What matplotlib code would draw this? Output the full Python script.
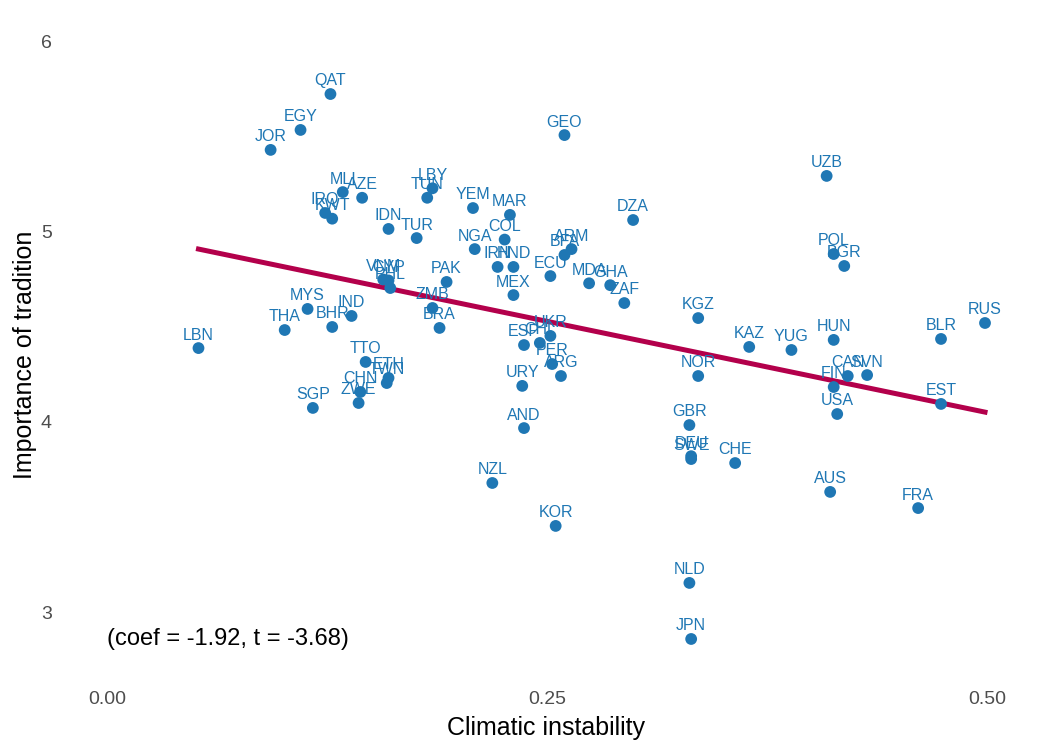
import matplotlib.pyplot as plt
import numpy as np

plt.rcParams['font.family'] = ['Liberation Sans', 'DejaVu Sans']

# country codes and values
countries = ['QAT', 'EGY', 'JOR', 'MLI', 'AZE', 'IRQ', 'KWT', 'LBY', 'TUN', 'YEM',
             'IDN', 'TUR', 'NGA', 'MAR', 'COL', 'GEO', 'DZA', 'UZB', 'IRN', 'HND',
             'ECU', 'BFA', 'ARM', 'MDA', 'GHA', 'ZAF', 'MEX', 'PAK', 'VNM', 'CYP',
             'PHL', 'ZMB', 'BRA', 'MYS', 'IND', 'BHR', 'THA', 'LBN', 'TTO', 'ETH',
             'TWN', 'CHN', 'ZWE', 'SGP', 'KGZ', 'ESP', 'CHL', 'UKR', 'PER', 'ARG',
             'URY', 'AND', 'NZL', 'KOR', 'NOR', 'GBR', 'DEU', 'SWE', 'CHE', 'NLD',
             'JPN', 'KAZ', 'YUG', 'HUN', 'POL', 'BGR', 'CAN', 'FIN', 'SVN', 'USA',
             'AUS', 'FRA', 'BLR', 'RUS', 'EST']
instability = [0.127, 0.110, 0.093, 0.134, 0.145, 0.124, 0.128, 0.185, 0.182, 0.208,
               0.160, 0.176, 0.209, 0.229, 0.226, 0.260, 0.299, 0.409, 0.222, 0.231,
               0.252, 0.260, 0.264, 0.274, 0.286, 0.294, 0.231, 0.193, 0.157, 0.160,
               0.161, 0.185, 0.189, 0.114, 0.139, 0.128, 0.101, 0.052, 0.147, 0.160,
               0.159, 0.144, 0.143, 0.117, 0.336, 0.237, 0.246, 0.252, 0.253, 0.258,
               0.236, 0.237, 0.219, 0.255, 0.336, 0.331, 0.332, 0.332, 0.357, 0.331,
               0.332, 0.365, 0.389, 0.413, 0.413, 0.419, 0.421, 0.413, 0.432, 0.415,
               0.411, 0.461, 0.474, 0.499, 0.474]
tradition = [5.726, 5.537, 5.432, 5.210, 5.180, 5.100, 5.070, 5.230, 5.180, 5.126,
             5.016, 4.968, 4.910, 5.090, 4.960, 5.510, 5.063, 5.295, 4.816, 4.816,
             4.768, 4.879, 4.910, 4.730, 4.720, 4.626, 4.668, 4.737, 4.750, 4.745,
             4.705, 4.600, 4.495, 4.595, 4.558, 4.500, 4.484, 4.389, 4.316, 4.232,
             4.205, 4.158, 4.100, 4.074, 4.547, 4.405, 4.416, 4.453, 4.305, 4.242,
             4.190, 3.968, 3.679, 3.453, 4.242, 3.984, 3.820, 3.805, 3.784, 3.153,
             2.858, 4.395, 4.379, 4.432, 4.884, 4.821, 4.242, 4.184, 4.247, 4.042,
             3.632, 3.547, 4.437, 4.521, 4.095]

coef = -1.92
t_stat = -3.68
intercept = 5.01

blue = '#1f77b4'
x = np.array(instability)
y = np.array(tradition)

fig = plt.figure(figsize=(10.5, 7.5), dpi=100)
ax = fig.add_axes([0.06, 0.0933, 0.92, 0.8667])

# fitted line
xl = np.array([x.min(), x.max()])
ax.plot(xl, intercept + coef * xl, color='#b3004b', lw=3.6, zorder=1)

ax.scatter(x, y, s=72, color=blue, edgecolors='none', zorder=2)
for c, xi, yi in zip(countries, x, y):
    ax.annotate(c, (xi, yi), xytext=(0, 4), textcoords='offset points',
                ha='center', va='bottom', color=blue, fontsize=11.5, zorder=3)

ax.text(0, y.min(), f'(coef = {coef:.2f}, t = {t_stat:.2f})', ha='left', va='center',
        fontsize=17, color='black')

ax.set_xlim(-0.025, 0.524)
ax.set_ylim(2.642, 6.063)
ax.set_xticks([0, 0.25, 0.5])
ax.set_xticklabels(['0.00', '0.25', '0.50'])
ax.set_yticks([3, 4, 5, 6])
ax.tick_params(length=0, labelsize=14, labelcolor='#4d4d4d', pad=8)
for s in ax.spines.values():
    s.set_visible(False)
ax.set_xlabel('Climatic instability', fontsize=18, labelpad=6)
ax.set_ylabel('Importance of tradition', fontsize=18, labelpad=3)

fig.savefig('out.png', dpi=100)
